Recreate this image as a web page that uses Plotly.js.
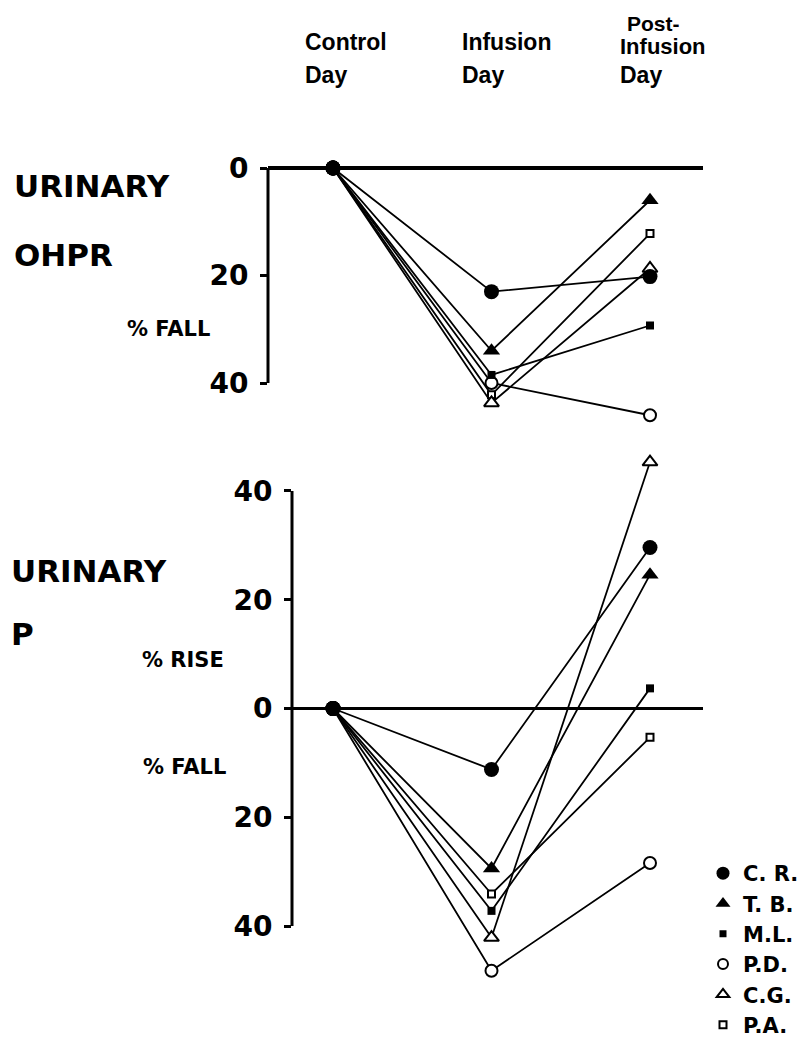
<!DOCTYPE html>
<html>
<head>
<meta charset="utf-8">
<script src="https://cdn.plot.ly/plotly-3.0.1.min.js"></script>
<style>html,body{margin:0;padding:0;background:#fff;}</style>
</head>
<body>
<div id="chart" style="width:805px;height:1041px;"></div>
<script>
// ---- data ----
const categories = ['Control Day', 'Infusion Day', 'Post-Infusion Day'];
const headerLines = [['Control', 'Day'], ['Infusion', 'Day'], ['Post-', 'Infusion', 'Day']];
const subjects = ['C. R.', 'T. B.', 'M.L.', 'P.D.', 'C.G.', 'P.A.'];

// Urinary OHPR, % fall from control day
const ohprControl  = [0, 0, 0, 0, 0, 0];
const ohprInfusion = [23, 34, 38.5, 40, 43.7, 42.2];
const ohprPost     = [20.2, 6, 29.3, 46, 18.7, 12.2];

// Urinary P, % change from control day (rise positive, fall negative)
const pControl  = [0, 0, 0, 0, 0, 0];
const pInfusion = [-11.2, -29.4, -37.2, -48.2, -42.1, -34.1];
const pPost     = [29.6, 24.6, 3.7, -28.4, 45.3, -5.3];

const ohprTicks = [0, 20, 40];
const ohprTickText = ['0', '20', '40'];
const pTicks = [-40, -20, 0, 20, 40];
const pTickText = ['40', '20', '0', '20', '40'];

// ---- styles ----
const FONT = 'DejaVu Sans';
const HFONT = 'Liberation Sans';
const markerStyles = [
  {symbol: 'circle', size: 15, color: 'black', line: {color: 'black', width: 0}},
  {symbol: 'triangle-up', size: 15, color: 'black', line: {color: 'black', width: 0}},
  {symbol: 'square', size: 8, color: 'black', line: {color: 'black', width: 0}},
  {symbol: 'circle', size: 12, color: 'white', line: {color: 'black', width: 2}},
  {symbol: 'triangle-up', size: 13, color: 'white', line: {color: 'black', width: 2}},
  {symbol: 'square', size: 7, color: 'white', line: {color: 'black', width: 2}}
];
const legendSizes = [13, 13, 7, 10, 11, 7];
const drawOrder = [5, 4, 3, 2, 1, 0];

function seriesTrace(i, ys, xa, ya) {
  const m = markerStyles[i];
  return {
    type: 'scatter', mode: 'lines+markers',
    x: categories, y: ys, xaxis: xa, yaxis: ya,
    name: subjects[i], showlegend: false, cliponaxis: false,
    line: {color: 'black', width: 1.8},
    marker: {
      opacity: 1,
      symbol: ['circle', m.symbol, m.symbol],
      size: [15, m.size, m.size],
      color: ['black', m.color, m.color],
      line: {color: 'black', width: [0, m.line.width, m.line.width]}
    },
    hoverinfo: 'skip'
  };
}

const traces = [];
drawOrder.forEach(i => {
  traces.push(seriesTrace(i, [ohprControl[i], ohprInfusion[i], ohprPost[i]], 'x', 'y'));
});
drawOrder.forEach(i => {
  traces.push(seriesTrace(i, [pControl[i], pInfusion[i], pPost[i]], 'x2', 'y2'));
});
// legend entries
subjects.forEach((s, i) => {
  const m = markerStyles[i];
  traces.push({
    type: 'scatter', mode: 'markers', x: [null], y: [null],
    name: s, showlegend: true,
    marker: {opacity: 1, symbol: m.symbol, size: legendSizes[i], color: m.color, line: m.line}
  });
});

// ---- layout ----
const W = 805, H = 1041;
const px = v => v / W;
const py = v => 1 - v / H;

const annotations = [];
function label(text, x, y, size) {
  annotations.push({text: text, xref: 'paper', yref: 'paper', x: px(x), y: py(y),
    xanchor: 'left', yanchor: 'middle', showarrow: false,
    font: {family: FONT, size: size, color: 'black', weight: 'bold'}});
}
label('URINARY', 12, 186, 31);
label('OHPR', 12, 255, 31);
label('% FALL', 125, 329, 21);
label('URINARY', 9, 571, 31);
label('P', 9, 634, 31);
label('% RISE', 140, 660, 21);
label('% FALL', 141, 767, 21);

const headerY = {2: [42, 75], 3: [24, 47, 75]};
const headerSize = {2: [23, 23], 3: [21, 22, 23]};
const headerShift = [[-30, -30], [-32, -32], [-25, -32, -32]];
headerLines.forEach((lines, c) => {
  lines.forEach((t, k) => {
    annotations.push({text: t, xref: 'x', yref: 'paper', x: categories[c], y: py(headerY[lines.length][k]),
      xanchor: 'left', yanchor: 'middle', xshift: headerShift[c][k], showarrow: false,
      font: {family: HFONT, size: headerSize[lines.length][k], color: 'black', weight: 'bold'}});
  });
});

const pxPerTop = 5.375, zeroTop = 168;
const pxPerBot = 5.44, zeroBot = 708.5;
const topRange = [48, -2];
const botRange = [-52, 48];

const yCommon = {
  ticks: 'outside', ticklen: 7, tickwidth: 3, tickcolor: 'black',
  showline: false, showgrid: false, zeroline: true, zerolinewidth: 3.5, zerolinecolor: 'black',
  tickfont: {family: FONT, size: 28, color: 'black', weight: 'bold'}, ticklabelstandoff: 6,
  fixedrange: true
};

const layout = {
  width: W, height: H,
  margin: {l: 0, r: 0, t: 0, b: 0, autoexpand: false},
  paper_bgcolor: 'white', plot_bgcolor: 'rgba(0,0,0,0)',
  showlegend: true,
  legend: {x: px(703), xanchor: 'left', y: py(853), yanchor: 'top',
    font: {family: FONT, size: 21, color: 'black', weight: 'bold'},
    tracegroupgap: 0, bgcolor: 'rgba(0,0,0,0)', borderwidth: 0},
  xaxis: {domain: [px(268), px(703)], type: 'category', categoryarray: categories,
    range: [-(333 - 268) / 158.5, (703 - 333) / 158.5], anchor: 'y', visible: false, fixedrange: true},
  xaxis2: {domain: [px(292), px(703)], type: 'category', categoryarray: categories,
    range: [-(333 - 292) / 158.5, (703 - 333) / 158.5], anchor: 'y2', visible: false, fixedrange: true},
  yaxis: Object.assign({}, yCommon, {
    anchor: 'x', range: topRange,
    domain: [py(zeroTop + topRange[0] * pxPerTop), py(zeroTop + topRange[1] * pxPerTop)],
    tickvals: ohprTicks, ticktext: ohprTickText}),
  yaxis2: Object.assign({}, yCommon, {
    anchor: 'x2', range: botRange,
    domain: [py(zeroBot - botRange[0] * pxPerBot), py(zeroBot - botRange[1] * pxPerBot)],
    tickvals: pTicks, ticktext: pTickText}),
  shapes: [
    {type: 'line', xref: 'x domain', yref: 'y', x0: 0, x1: 0, y0: ohprTicks[0], y1: ohprTicks[ohprTicks.length - 1],
      line: {color: 'black', width: 3}, layer: 'above'},
    {type: 'line', xref: 'x2 domain', yref: 'y2', x0: 0, x1: 0, y0: pTicks[0], y1: pTicks[pTicks.length - 1],
      line: {color: 'black', width: 3}, layer: 'above'}
  ],
  annotations: annotations
};

Plotly.newPlot('chart', traces, layout, {staticPlot: true, displayModeBar: false});
</script>
</body>
</html>
